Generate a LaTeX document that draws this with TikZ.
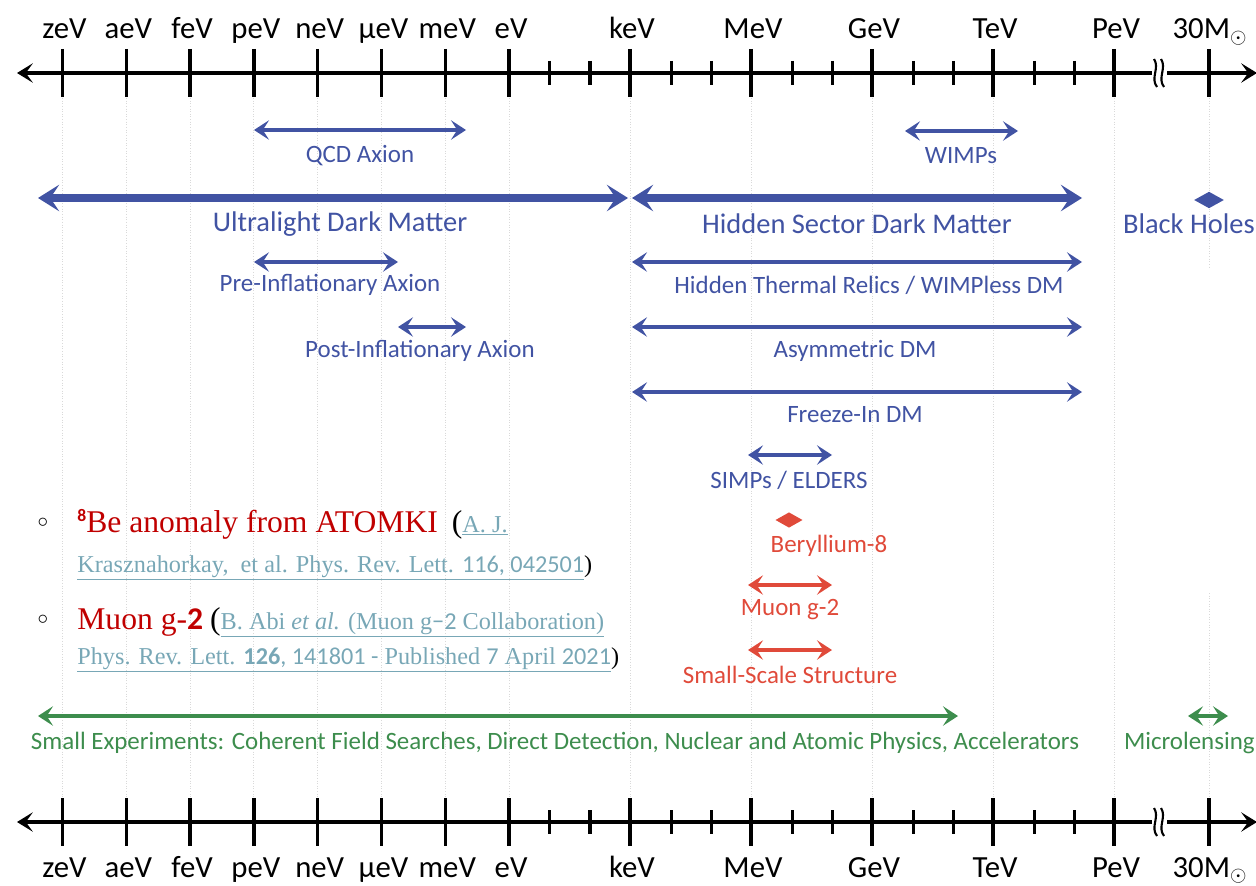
\documentclass[tikz,border=0pt]{standalone}
\usepackage{fontspec}
\setmainfont{Carlito}
\newfontfamily\citeserif{Liberation Serif}
\newfontfamily\citedigits{Carlito}
\usetikzlibrary{arrows.meta,shapes.geometric}
\definecolor{dmBlue}{HTML}{4153A3}
\definecolor{dmRed}{HTML}{E04A3A}
\definecolor{dmGreen}{HTML}{3D8D4D}
\definecolor{bulletRed}{HTML}{C00000}
\definecolor{citeTeal}{HTML}{78A7B6}
\newcommand\citelink[1]{{\color{citeTeal}\underline{#1}}}
\tikzset{
  thinrange/.style={line width=2.3pt, {Stealth[length=8.5pt,width=11pt,inset=3.5pt]}-{Stealth[length=8.5pt,width=11pt,inset=3.5pt]}},
  widerange/.style={line width=4pt, {Stealth[length=12pt,width=15pt,inset=5pt]}-{Stealth[length=12pt,width=15pt,inset=5pt]}},
  smalllbl/.style={font=\fontsize{14.2}{16}\selectfont, inner sep=0},
  biglbl/.style={font=\fontsize{16.2}{18}\selectfont, inner sep=0},
  scalelbl/.style={font=\fontsize{17.5}{19}\selectfont, inner sep=0, anchor=base},
  guide/.style={gray!30, densely dotted, line width=0.5pt},
  axisline/.style={line width=2.8pt, {Stealth[length=9pt,width=11pt,inset=4pt]}-{Stealth[length=9pt,width=11pt,inset=4pt]}},
}
\begin{document}
\begin{tikzpicture}[x=0.02cm, y=-0.02cm]
  \useasboundingbox (0,0) rectangle (1256,885);
  \clip (0,0) rectangle (1256,885);
  % dotted guides
  \foreach \gx in {62.5,126.3,190.1,253.9,317.7,381.5,445.3,509.1,630,751,872,993,1114}
    \draw[guide] (\gx,98) -- (\gx,797);
  \draw[guide] (1209,98) -- (1209,267);
  \draw[guide] (1209,593) -- (1209,797);

  % energy axes, top and bottom
  \foreach \ay/\ly/\nm in {73/39/top, 822/877/bot} {
    \coordinate (\nm L) at (17,\ay);
    \coordinate (\nm R) at (1257,\ay);
    \draw[axisline] (\nm L) -- (\nm R);
    \foreach \tx/\tl in {62.5/zeV,126.3/aeV,190.1/feV,253.9/peV,317.7/neV,381.5/µeV,445.3/meV,509.1/eV,630/keV,751/MeV,872/GeV,993/TeV,1114/PeV} {
      \draw[line width=2pt] (\tx,\ay-24) -- (\tx,\ay+24);
      \node[scalelbl] at (\tx+2,\ly) {\tl};
    }
    \foreach \tx in {549.5,589.8,671.3,711.7,792.3,832.7,913.3,953.7,1034.3,1074.7}
      \draw[line width=2pt] (\tx,\ay-12) -- (\tx,\ay+12);
    \draw[line width=2pt] (1209,\ay-24) -- (1209,\ay+24);
    \node[scalelbl] at (1210,\ly) {30M\textsubscript{$\odot$}};
    % axis break
    \fill[white] (1152,\ay-6) rectangle (1167,\ay+6);
    \draw[line width=1.2pt] (1154,\ay-14) .. controls (1160,\ay-5) and (1150,\ay+5) .. (1157,\ay+14);
    \draw[line width=1.2pt] (1161,\ay-14) .. controls (1167,\ay-5) and (1157,\ay+5) .. (1164,\ay+14);
  }

  % blue: dark matter candidates
  \coordinate (qcdL) at (254,130); \coordinate (qcdR) at (466,130);
  \draw[thinrange, dmBlue] (qcdL) -- (qcdR);
  \node[smalllbl, dmBlue] (qcd) at (360,156) {QCD Axion};

  \coordinate (wimpL) at (905,131); \coordinate (wimpR) at (1018,131);
  \draw[thinrange, dmBlue] (wimpL) -- (wimpR);
  \node[smalllbl, dmBlue] (wimp) at (961,156) {WIMPs};

  \coordinate (ultraL) at (38,198); \coordinate (ultraR) at (628,198);
  \draw[widerange, dmBlue] (ultraL) -- (ultraR);
  \node[biglbl, dmBlue] (ultra) at (340,224) {Ultralight Dark Matter};

  \coordinate (hiddenL) at (632,198); \coordinate (hiddenR) at (1082,198);
  \draw[widerange, dmBlue] (hiddenL) -- (hiddenR);
  \node[biglbl, dmBlue] (hidden) at (857,224) {Hidden Sector Dark Matter};

  \node[diamond, fill=dmBlue, aspect=1.8, inner sep=0, minimum width=17pt, minimum height=9.5pt] (bhMark) at (1209,200) {};
  \node[biglbl, dmBlue, anchor=east] (bh) at (1255,224) {Black Holes};

  \coordinate (preL) at (254,262); \coordinate (preR) at (398,262);
  \draw[thinrange, dmBlue] (preL) -- (preR);
  \node[smalllbl, dmBlue] (pre) at (330,285) {Pre-Inflationary Axion};

  \coordinate (thermL) at (632,262); \coordinate (thermR) at (1082,262);
  \draw[thinrange, dmBlue] (thermL) -- (thermR);
  \node[smalllbl, dmBlue] (therm) at (869,285) {Hidden Thermal Relics / WIMPless DM};

  \coordinate (postL) at (398,327); \coordinate (postR) at (466,327);
  \draw[thinrange, dmBlue] (postL) -- (postR);
  \node[smalllbl, dmBlue] (post) at (420,351) {Post-Inflationary Axion};

  \coordinate (asymL) at (632,327); \coordinate (asymR) at (1082,327);
  \draw[thinrange, dmBlue] (asymL) -- (asymR);
  \node[smalllbl, dmBlue] (asym) at (855,351) {Asymmetric DM};

  \coordinate (freezeL) at (632,392); \coordinate (freezeR) at (1082,392);
  \draw[thinrange, dmBlue] (freezeL) -- (freezeR);
  \node[smalllbl, dmBlue] (freeze) at (855,415) {Freeze-In DM};

  \coordinate (simpL) at (748,455); \coordinate (simpR) at (832,455);
  \draw[thinrange, dmBlue] (simpL) -- (simpR);
  \node[smalllbl, dmBlue] (simp) at (789,480) {SIMPs / ELDERS};

  % red: anomalies
  \node[diamond, fill=dmRed, aspect=1.8, inner sep=0, minimum width=15.5pt, minimum height=8.8pt] (beMark) at (789,520) {};
  \node[smalllbl, dmRed] (be) at (829,546) {Beryllium-8};

  \coordinate (muonL) at (748,585); \coordinate (muonR) at (832,585);
  \draw[thinrange, dmRed] (muonL) -- (muonR);
  \node[smalllbl, dmRed] (muon) at (790,610) {Muon g-2};

  \coordinate (sssL) at (748,650); \coordinate (sssR) at (832,650);
  \draw[thinrange, dmRed] (sssL) -- (sssR);
  \node[smalllbl, dmRed] (sss) at (790,675) {Small-Scale Structure};

  % green: searches
  \coordinate (smallL) at (38,716); \coordinate (smallR) at (958,716);
  \draw[thinrange, dmGreen] (smallL) -- (smallR);
  \node[smalllbl, dmGreen] (small) at (555,743) {Small Experiments: Coherent Field Searches, Direct Detection, Nuclear and Atomic Physics, Accelerators};

  \coordinate (lensL) at (1188,716); \coordinate (lensR) at (1228,716);
  \draw[thinrange, dmGreen] (lensL) -- (lensR);
  \node[smalllbl, dmGreen, anchor=east] (lens) at (1255,743) {Microlensing};

  % bullet notes
  \node[font=\fontsize{12}{14}\selectfont] (dotA) at (43,523) {$\circ$};
  \node[font=\fontsize{12}{14}\selectfont] (dotB) at (43,620) {$\circ$};
  \node[anchor=base west, inner sep=0] (beNote) at (77,532)
    {\citeserif\fontsize{18}{20}\selectfont\color{bulletRed}{\citedigits\fontsize{10}{11}\selectfont\raisebox{6pt}{\textbf{8}}}Be anomaly from ATOMKI\hspace{8pt}{\color{black}(}{\fontsize{13.8}{15}\selectfont\citelink{A. J.}}};
  \node[anchor=base west, inner sep=0] (beRef) at (77,572)
    {\citeserif\fontsize{13.8}{15}\selectfont\citelink{Krasznahorkay,\ \ et al. Phys. Rev. Lett. {\citedigits 116, 042501}})};
  \node[anchor=base west, inner sep=0] (muNote) at (77,629)
    {\citeserif\fontsize{18}{20}\selectfont\color{bulletRed}Muon g-{\citedigits\textbf{2}}\hspace{4pt}{\color{black}(}{\fontsize{13.8}{15}\selectfont\citelink{B. Abi \textit{et al.} (Muon g{\citedigits −2} Collaboration)}}};
  \node[anchor=base west, inner sep=0] (muRef) at (77,664)
    {\citeserif\fontsize{13.8}{15}\selectfont\citelink{Phys. Rev. Lett. {\citedigits\textbf{126}, 141801 -} Published {\citedigits 7} April {\citedigits 2021}})};
\end{tikzpicture}
\end{document}
